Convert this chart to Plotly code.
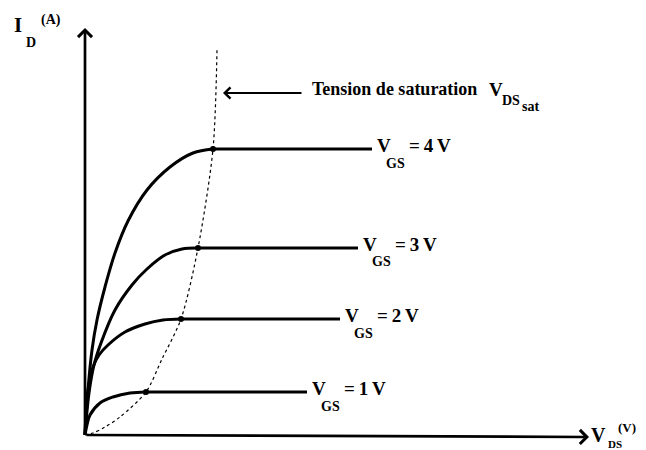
import plotly.graph_objects as go

# ---- data (arbitrary units: VDS horizontally, ID vertically) ----
vgs_labels = ["1", "2", "3", "4"]

vgs1_vds = [0, 2, 5, 15, 28, 45, 61]
vgs1_id = [0, 10, 20, 32, 38, 42, 43]

vgs2_vds = [0, 3, 8, 14, 23, 40, 60, 78, 96]
vgs2_id = [0, 45, 68, 80, 90, 103, 111, 115, 116]

vgs3_vds = [0, 4, 9, 16, 30, 47, 62, 80, 97, 113]
vgs3_id = [0, 42, 70, 92, 125, 150, 166, 180, 186, 187]

vgs4_vds = [0, 3, 7, 12, 20, 30, 43, 62, 85, 108, 128]
vgs4_id = [0, 45, 85, 115, 148, 182, 214, 245, 268, 282, 286]

sat_end_vds = [222, 255, 273, 287]

vdssat_vds = [0, 8, 20, 35, 61, 77, 96, 113, 128, 132]
vdssat_id = [0, 2, 8, 18, 43, 76, 116, 187, 286, 385]

curves = [(vgs1_vds, vgs1_id), (vgs2_vds, vgs2_id), (vgs3_vds, vgs3_id), (vgs4_vds, vgs4_id)]

PAGE_OFF = 8          # default body margin of the html page
W, H = 646 - PAGE_OFF, 450 - PAGE_OFF
OX, OY = 85, 435      # page pixel position of the origin


def px(x):
    return (x - PAGE_OFF) / W


def py(y):
    return 1 - (y - PAGE_OFF) / H


FONT = "Liberation Serif"

fig = go.Figure()

# saturation voltage dotted curve
fig.add_trace(go.Scatter(x=vdssat_vds, y=vdssat_id, mode="lines",
                         line=dict(color="black", width=1.2, dash="dot", shape="spline", smoothing=0.8),
                         hoverinfo="skip", showlegend=False))

for (xs, ys), xend in zip(curves, sat_end_vds):
    fig.add_trace(go.Scatter(x=xs, y=ys, mode="lines",
                             line=dict(color="black", width=3, shape="spline", smoothing=1.0),
                             hoverinfo="skip", showlegend=False))
    fig.add_trace(go.Scatter(x=[xs[-1], xend], y=[ys[-1], ys[-1]], mode="lines",
                             line=dict(color="black", width=3),
                             hoverinfo="skip", showlegend=False))

# knee dots
fig.add_trace(go.Scatter(x=[c[0][-1] for c in curves], y=[c[1][-1] for c in curves], mode="markers",
                         marker=dict(color="black", size=6), hoverinfo="skip", showlegend=False))

annotations = []

# axes with arrows
annotations.append(dict(x=px(OX), y=py(28), xref="paper", yref="paper", text="", showarrow=True,
                        ax=0, ay=OY - 28, arrowhead=4, arrowsize=1, arrowwidth=2.7, arrowcolor="black",
                        standoff=0, startstandoff=0))
annotations.append(dict(x=px(589), y=py(437), xref="paper", yref="paper", text="", showarrow=True,
                        ax=-(589 - OX), ay=-2, arrowhead=4, arrowsize=1, arrowwidth=2.7, arrowcolor="black",
                        standoff=0, startstandoff=0))

# arrow for saturation
annotations.append(dict(x=px(223), y=py(93), xref="paper", yref="paper", text="", showarrow=True,
                        ax=80, ay=0, arrowhead=4, arrowsize=1.1, arrowwidth=2, arrowcolor="black",
                        standoff=0))


def txt(x, y, s, size, anchor="left"):
    annotations.append(dict(x=px(x), y=py(y), xref="paper", yref="paper", text=s, showarrow=False,
                            xanchor=anchor, yanchor="middle",
                            font=dict(family=FONT, size=size, color="black"), borderpad=0))


# axis titles
txt(13, 25, "<b>I</b>", 21)
txt(25, 43, "<b>D</b>", 14)
txt(40, 20, "<b>(A)</b>", 14)

txt(590, 435, "<b>V</b>", 20)
txt(607, 444, "<b>DS</b>", 11)
txt(617, 427, "<b>(V)</b>", 13)

# saturation label
txt(311, 89, "<b>Tension de saturation</b>", 18)
txt(488, 89, "<b>V</b>", 19)
txt(501, 100, "<b>DS</b>", 14)
txt(521, 106, "<b>sat</b>", 14)

# VGS labels
for lab, (xs, ys), xend in zip(vgs_labels, curves, sat_end_vds):
    x0 = OX + xend + 4
    y0 = OY - ys[-1]
    txt(x0, y0 - 4, "<b>V</b>", 19)
    txt(x0 + 9, y0 + 14, "<b>GS</b>", 14)
    txt(x0 + 32, y0 - 4, "<b>=\u20094\u2009V</b>".replace("4", lab), 19)

fig.update_layout(
    width=W, height=H,
    margin=dict(l=0, r=0, t=0, b=0),
    paper_bgcolor="white", plot_bgcolor="white",
    xaxis=dict(range=[PAGE_OFF - OX, PAGE_OFF + W - OX], visible=False, fixedrange=True),
    yaxis=dict(range=[OY - (PAGE_OFF + H), OY - PAGE_OFF], visible=False, fixedrange=True),
    annotations=annotations,
    showlegend=False,
)

fig.write_html("out.html")
